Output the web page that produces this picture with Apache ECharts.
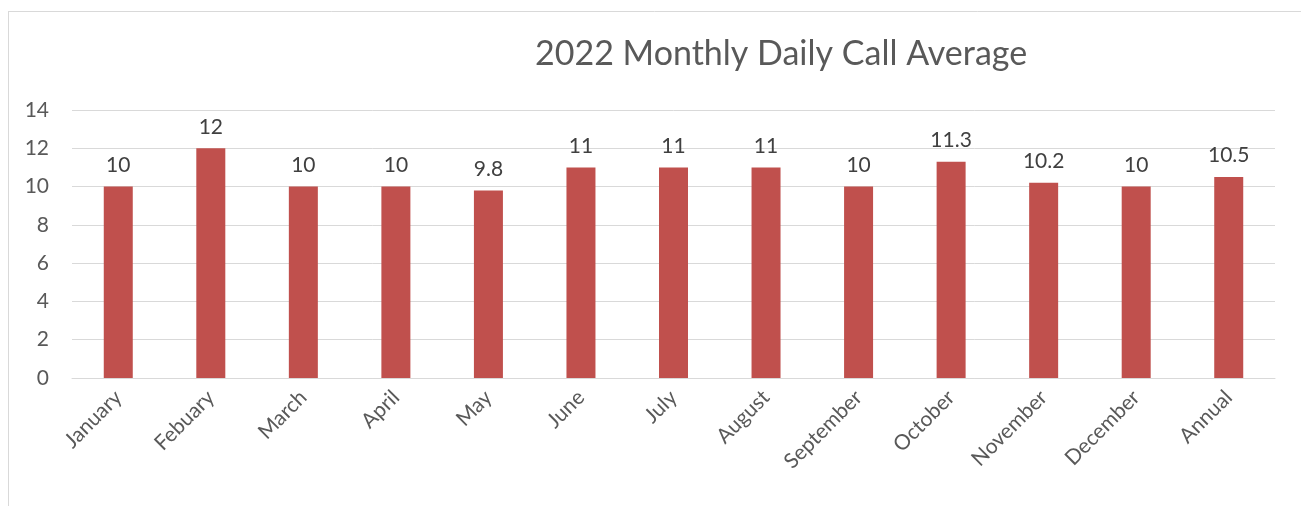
<!DOCTYPE html>
<html>
<head>
<meta charset="utf-8">
<script src="https://cdn.jsdelivr.net/npm/echarts@6/dist/echarts.min.js"></script>
<style>html,body{margin:0;padding:0;background:#fff;}#c{width:1301px;height:506px;}</style>
</head>
<body>
<div id="c"></div>
<script>
const categories = ['January','Febuary','March','April','May','June','July','August','September','October','November','December','Annual'];
const values = [10, 12, 10, 10, 9.8, 11, 11, 11, 10, 11.3, 10.2, 10, 10.5];
const yTicks = { min: 0, max: 14, interval: 2 };
const titleText = '2022 Monthly Daily Call Average';

const FONT = 'Lato, "Open Sans", sans-serif';
const chart = echarts.init(document.getElementById('c'), null, { renderer: 'canvas' });
chart.setOption({
  animation: false,
  backgroundColor: '#ffffff',
  title: {
    text: titleText,
    left: 530, top: 32,
    textStyle: { fontFamily: FONT, fontSize: 34, fontWeight: 'normal', color: '#595959' }
  },
  graphic: [
    { type: 'line', shape: { x1: 8, y1: 11.5, x2: 1301, y2: 11.5 }, style: { stroke: '#d9d9d9', lineWidth: 1 }, silent: true },
    { type: 'line', shape: { x1: 8.5, y1: 11, x2: 8.5, y2: 506 }, style: { stroke: '#d9d9d9', lineWidth: 1 }, silent: true }
  ],
  grid: { left: 72, right: 26, top: 110, bottom: 128, containLabel: false },
  xAxis: {
    type: 'category',
    data: categories,
    axisLine: { lineStyle: { color: '#d9d9d9', width: 1 } },
    axisTick: { show: false },
    axisLabel: { rotate: 45, color: '#595959', fontFamily: FONT, fontSize: 21, margin: 16, interval: 0 }
  },
  yAxis: {
    type: 'value',
    min: yTicks.min, max: yTicks.max, interval: yTicks.interval,
    axisLine: { show: false },
    axisTick: { show: false },
    splitLine: { lineStyle: { color: '#d9d9d9', width: 1 } },
    axisLabel: { color: '#595959', fontFamily: FONT, fontSize: 21, margin: 23 }
  },
  series: [{
    type: 'bar',
    data: values,
    barWidth: 29,
    itemStyle: { color: '#C0504D' },
    label: { show: true, position: 'top', distance: 11, color: '#404040', fontFamily: FONT, fontSize: 21 }
  }]
});
</script>
</body>
</html>
